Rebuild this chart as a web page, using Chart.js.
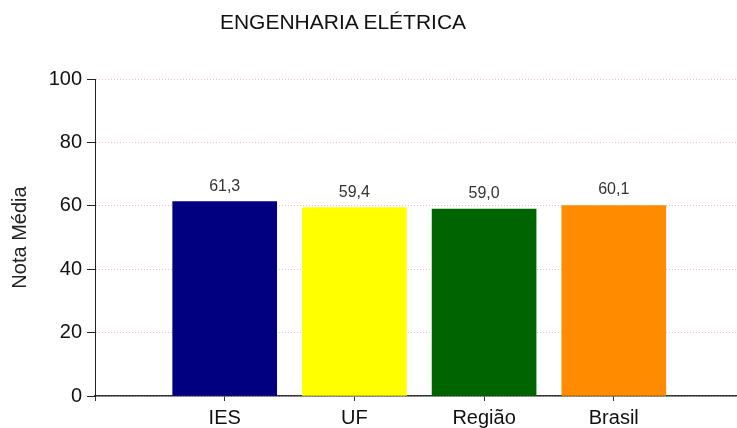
<!DOCTYPE html>
<html>
<head>
<meta charset="utf-8">
<script src="https://cdn.jsdelivr.net/npm/chart.js@4.4.1/dist/chart.umd.min.js"></script>
<style>
  html, body { margin: 0; padding: 0; background: #fff; }
  #wrap { position: relative; width: 737px; height: 428px; }
  #titulo {
    position: absolute; top: 9px; left: 0; width: 686px;
    text-align: center; font: 21px "Liberation Sans", Arial, sans-serif;
    line-height: 25px; color: #111;
  }
</style>
</head>
<body>
<div id="wrap">
  <canvas id="grafico" width="737" height="428"></canvas>
  <div id="titulo">ENGENHARIA ELÉTRICA</div>
</div>
<script>
// dados
const categorias = ['IES', 'UF', 'Região', 'Brasil'];
const notas = [61.3, 59.4, 59.0, 60.1];
const cores = ['#000080', '#ffff00', '#006400', '#ff8c00'];
const yTicks = [0, 20, 40, 60, 80, 100];

const fonte = '"Liberation Sans", Arial, sans-serif';

// rótulos acima das barras (vírgula decimal)
const rotulosBarras = {
  id: 'rotulosBarras',
  afterDatasetsDraw(chart) {
    const ctx = chart.ctx;
    const meta = chart.getDatasetMeta(0);
    ctx.save();
    ctx.font = '16px ' + fonte;
    ctx.fillStyle = '#333';
    ctx.textAlign = 'center';
    ctx.textBaseline = 'alphabetic';
    meta.data.forEach((bar, i) => {
      ctx.fillText(notas[i].toFixed(1).replace('.', ','), bar.x, bar.y - 11);
    });
    ctx.restore();
  }
};

const ctx = document.getElementById('grafico');
new Chart(ctx, {
  type: 'bar',
  data: {
    datasets: [{
      data: notas.map((v, i) => ({ x: i + 1, y: v })),
      backgroundColor: cores,
      borderWidth: 0,
      barThickness: 104
    }]
  },
  options: {
    responsive: false,
    animation: false,
    layout: { padding: { top: 79, right: 0, left: 0, bottom: 0 } },
    plugins: {
      legend: { display: false },
      tooltip: { enabled: false }
    },
    scales: {
      x: {
        type: 'linear',
        offset: false,
        min: 0,
        max: 4.95,
        afterBuildTicks(scale) {
          scale.ticks = [0, 1, 2, 3, 4].map(v => ({ value: v }));
        },
        afterFit(scale) { scale.height = 32; },
        ticks: {
          color: '#111',
          font: { size: 20, family: fonte },
          padding: 5,
          maxRotation: 0,
          autoSkip: false,
          callback: v => categorias[v - 1] || ''
        },
        grid: {
          offset: false,
          drawOnChartArea: false,
          drawTicks: true,
          tickLength: 5,
          tickColor: '#333'
        },
        border: { color: '#333', width: 1.5 }
      },
      y: {
        min: 0,
        max: 100,
        afterBuildTicks(scale) {
          scale.ticks = yTicks.map(v => ({ value: v }));
        },
        afterFit(scale) { scale.width = 95; },
        ticks: {
          color: '#111',
          font: { size: 20, family: fonte },
          padding: 5
        },
        grid: {
          color: ctx => ctx.tick && ctx.tick.value === 0 ? '#bbb' : '#f4b8c8',
          lineWidth: 1,
          tickLength: 8,
          tickColor: '#222',
          tickBorderDash: []
        },
        border: { color: '#222', width: 1, dash: [1, 2] },
        title: {
          display: true,
          text: 'Nota Média',
          color: '#222',
          font: { size: 20, family: fonte },
          padding: { top: 8, bottom: 0 }
        }
      }
    }
  },
  plugins: [rotulosBarras]
});
</script>
</body>
</html>
